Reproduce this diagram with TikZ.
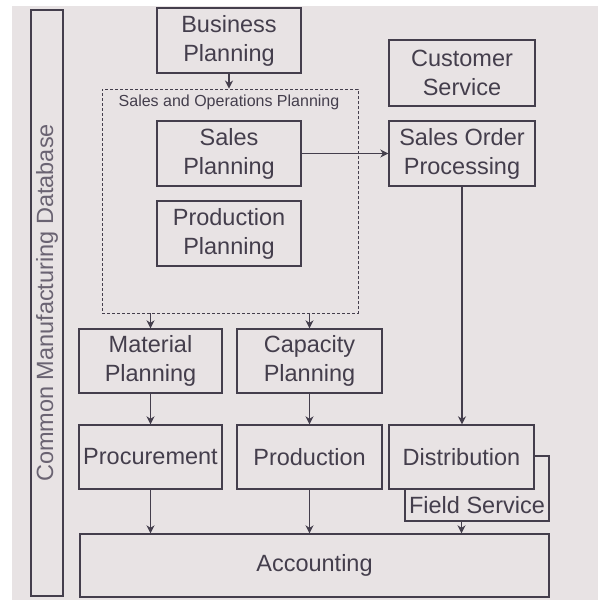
\documentclass[tikz,border=0pt]{standalone}
\usepackage{fontspec}
\setmainfont{Liberation Sans}
\usetikzlibrary{arrows.meta}
\definecolor{bgc}{HTML}{E8E3E4}
\definecolor{ink}{HTML}{443E4C}
\definecolor{inklight}{HTML}{6A6372}
\tikzset{
  box/.style={draw=ink, fill=bgc, line width=1.4pt, text=ink, align=center,
    inner sep=0pt, font=\fontsize{23.5}{29}\selectfont},
  arr/.style={draw=ink, line width=1.4pt, -{Stealth[length=8pt,width=8pt]}},
}
\begin{document}
\begin{tikzpicture}[x=1pt,y=-1pt]
\useasboundingbox (0,0) rectangle (598,600);
\fill[white] (0,0) rectangle (598,600);
\fill[bgc] (12,6) rectangle (598,600);
% database bar
\node[box, minimum width=32pt, minimum height=586pt] (db) at (47,303) {};
\node[text=inklight, font=\fontsize{23.5}{29}\selectfont, rotate=90] (dbt) at (db.center) {Common Manufacturing Database};
% dashed S&OP box
\node[draw=ink, line width=0.9pt, dash pattern=on 3pt off 2pt, minimum width=256pt, minimum height=224pt, inner sep=0pt] (sopbox) at (230,201) {};
\node[text=ink, font=\fontsize{16}{18}\selectfont] (soplabel) at (229,102) {Sales and Operations Planning};
% boxes
\node[box, minimum width=144pt, minimum height=65pt] (bp) at (229,40.5) {Business\\Planning};
\node[box, minimum width=144pt, minimum height=65pt] (sp) at (229,153.5) {Sales\\Planning};
\node[box, minimum width=144pt, minimum height=65pt] (pp) at (229,233.5) {Production\\Planning};
\node[box, minimum width=146pt, minimum height=66pt] (cs) at (462,73) {Customer\\Service};
\node[box, minimum width=146pt, minimum height=65pt] (sop) at (462,153.5) {Sales Order\\Processing};
\node[box, minimum width=143pt, minimum height=64pt] (mp) at (150.5,361) {Material\\Planning};
\node[box, minimum width=145pt, minimum height=64pt] (cp) at (309.5,361) {Capacity\\Planning};
\node[box, minimum width=143pt, minimum height=64pt] (proc) at (150.5,457) {Procurement};
\node[box, minimum width=145pt, minimum height=64pt] (prod) at (309.5,457) {Production};
\node[box, minimum width=144pt, minimum height=65pt] (fs) at (477,488.5) {};
\node[text=ink, font=\fontsize{23.5}{29}\selectfont] (fst) at (477,505) {Field Service};
\node[box, minimum width=145pt, minimum height=64pt] (dist) at (461.5,457) {Distribution};
\node[box, minimum width=469pt, minimum height=63pt] (acc) at (314.5,565.5) {Accounting};
% connectors
\draw[arr] (bp.south) -- (bp.south |- sopbox.north);
\draw[arr] (sp.east) -- (sop.west);
\draw[arr] (sop.south) -- (sop.south |- dist.north);
\draw[arr] (sopbox.south -| mp.north) -- (mp.north);
\draw[arr] (sopbox.south -| cp.north) -- (cp.north);
\draw[arr] (mp.south) -- (proc.north);
\draw[arr] (cp.south) -- (prod.north);
\draw[arr] (proc.south) -- (proc.south |- acc.north);
\draw[arr] (prod.south) -- (prod.south |- acc.north);
\draw[arr] (dist.center |- fs.south) -- (dist.center |- acc.north);
\end{tikzpicture}
\end{document}
